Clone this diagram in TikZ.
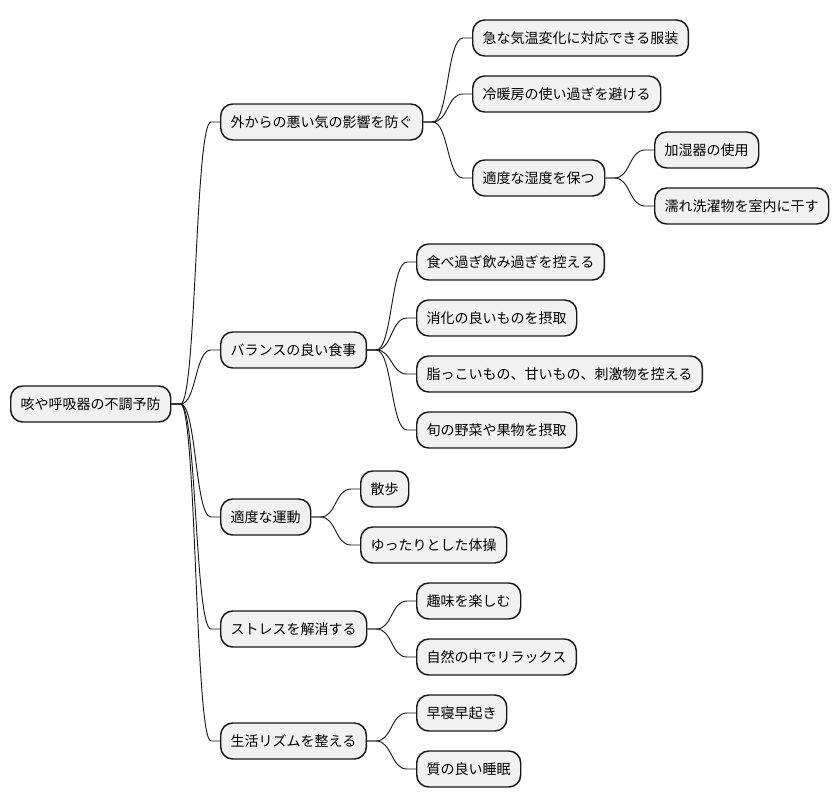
\documentclass[tikz,border=0pt]{standalone}
\usepackage{fontspec}
\newfontfamily\jpfont{Noto Sans CJK JP}
\usetikzlibrary{calc}
\definecolor{nodefill}{RGB}{241,241,241}
\definecolor{nodeborder}{RGB}{24,24,24}

\begin{document}
\begin{tikzpicture}[
    x=0.75pt, y=-0.75pt,
    topic/.style={draw=nodeborder, line width=1.1pt, rounded corners=9pt, fill=nodefill,
                  anchor=west, minimum height=27pt, inner xsep=7.5pt, inner ysep=0pt,
                  font=\jpfont\fontsize{10.5}{12}\selectfont},
    link/.style={line width=0.7pt, nodeborder,
                 to path={(\tikztostart.east) -- ++(9,0)
                          .. controls +(16,0) and +(-16,0) .. ($(\tikztotarget.west)+(-9,0)$)
                          -- (\tikztotarget.west)}}
]
\useasboundingbox (0,0) rectangle (838,809);

% root and first level
\node[topic] (root) at (10,404) {咳や呼吸器の不調予防};
\node[topic] (outer) at (220,122) {外からの悪い気の影響を防ぐ};
\node[topic] (diet) at (220,350) {バランスの良い食事};
\node[topic] (move) at (220,517) {適度な運動};
\node[topic] (stress) at (220,629) {ストレスを解消する};
\node[topic] (rhythm) at (220,741) {生活リズムを整える};

% outer influences
\node[topic] (clothes) at (472,38) {急な気温変化に対応できる服装};
\node[topic] (aircon) at (472,94) {冷暖房の使い過ぎを避ける};
\node[topic] (humid) at (472,178) {適度な湿度を保つ};
\node[topic] (humidifier) at (654,150) {加湿器の使用};
\node[topic] (laundry) at (654,206) {濡れ洗濯物を室内に干す};

% diet
\node[topic] (overeat) at (416,262) {食べ過ぎ飲み過ぎを控える};
\node[topic] (digest) at (416,318) {消化の良いものを摂取};
\node[topic] (greasy) at (416,374) {脂っこいもの、甘いもの、刺激物を控える};
\node[topic] (season) at (416,430) {旬の野菜や果物を摂取};

% exercise
\node[topic] (walk) at (360,489) {散歩};
\node[topic] (gym) at (360,545) {ゆったりとした体操};

% stress
\node[topic] (hobby) at (416,601) {趣味を楽しむ};
\node[topic] (nature) at (416,657) {自然の中でリラックス};

% rhythm
\node[topic] (early) at (416,713) {早寝早起き};
\node[topic] (sleep) at (416,769) {質の良い睡眠};

% connectors
\foreach \a/\b in {root/outer, root/diet, root/move, root/stress, root/rhythm,
                   outer/clothes, outer/aircon, outer/humid,
                   humid/humidifier, humid/laundry,
                   diet/overeat, diet/digest, diet/greasy, diet/season,
                   move/walk, move/gym,
                   stress/hobby, stress/nature,
                   rhythm/early, rhythm/sleep}
    \draw[link] (\a) to (\b);

\end{tikzpicture}
\end{document}
